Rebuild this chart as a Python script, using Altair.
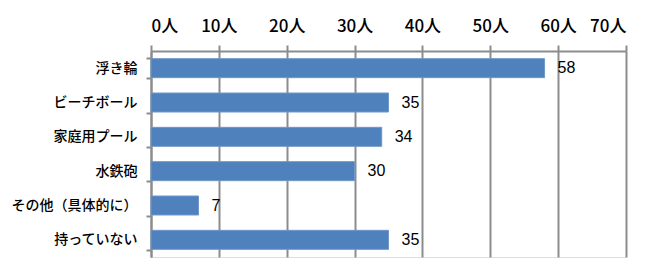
import altair as alt
import pandas as pd

# Items owned (number of people)
items = ["浮き輪", "ビーチボール", "家庭用プール", "水鉄砲", "その他（具体的に）", "持っていない"]
counts = [58, 35, 34, 30, 7, 35]

df = pd.DataFrame({"item": items, "count": counts})

jp_font = "Noto Sans CJK JP"
grid_gray = "#8c8c8c"

x_enc = alt.X(
    "count:Q",
    scale=alt.Scale(domain=[0, 70], nice=False),
    axis=alt.Axis(
        orient="top",
        values=[0, 10, 20, 30, 40, 50, 60, 70],
        labelExpr="datum.value + '人'",
        title=None,
        grid=True,
        gridColor=grid_gray,
        gridWidth=2,
        domainColor=grid_gray,
        domainWidth=2,
        tickColor=grid_gray,
        tickWidth=2,
        tickSize=6,
        labelFont=jp_font,
        labelFontSize=17,
        labelFontWeight=500,
        labelColor="#000000",
        labelPadding=10,
    ),
)

y_enc = alt.Y(
    "item:N",
    sort=items,
    scale=alt.Scale(paddingInner=0.4, paddingOuter=0.2),
    axis=alt.Axis(
        title=None,
        domainColor=grid_gray,
        domainWidth=2,
        tickColor=grid_gray,
        tickWidth=2,
        tickSize=5,
        tickBand="extent",
        labelFont=jp_font,
        labelFontSize=14,
        labelFontWeight=500,
        labelColor="#000000",
        labelPadding=9,
    ),
)

base = alt.Chart(df).encode(x=x_enc, y=y_enc)

bars = base.mark_bar(color="#4F81BD", size=19, stroke="#6f97c9", strokeWidth=1)

labels = base.mark_text(
    align="left",
    baseline="middle",
    dx=13,
    font="Liberation Sans",
    fontSize=16,
    color="#000000",
).encode(text="count:Q")

chart = (
    (bars + labels)
    .properties(
        width=475,
        height=206,
        autosize=alt.AutoSizeParams(type="none"),
        padding={"left": 151, "top": 51, "right": 40, "bottom": 22},
    )
    .configure_view(stroke=None)
    .configure(background="white")
)

chart.save("out.html", embed_options={"renderer": "svg", "actions": False})
